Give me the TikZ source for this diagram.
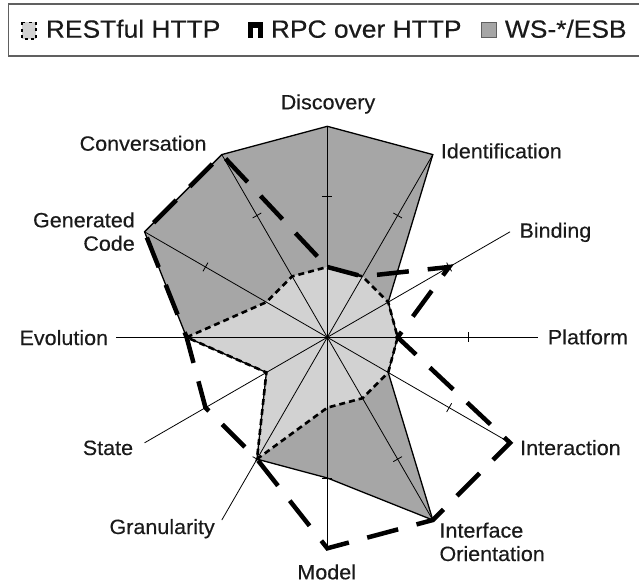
\documentclass[tikz,border=0pt]{standalone}
\usepackage{fontspec}
\setmainfont{Liberation Sans}
\newfontfamily\lblfont[FakeStretch=1.04,FakeBold=0.35]{Liberation Sans}
\newfontfamily\lgdfont[FakeStretch=1.06,FakeBold=0.35]{Liberation Sans}
\definecolor{wsgray}{HTML}{A6A6A6}
\definecolor{restgray}{HTML}{D2D2D2}
\definecolor{boxgray}{HTML}{606060}
\definecolor{txtgray}{HTML}{1A1A1A}
\begin{document}
\begin{tikzpicture}[x=1pt,y=-1pt,
  lbl/.style={inner sep=0pt, text=txtgray, font=\lblfont\fontsize{20.7}{23.4}\selectfont},
  lgd/.style={inner sep=0pt, text=txtgray, anchor=base west, font=\lgdfont\fontsize{24.9}{28}\selectfont},
  axisline/.style={black, line width=0.8pt},
  tickmark/.style={black, line width=0.8pt},
  wsline/.style={black, line width=1.3pt, line join=miter},
  restline/.style={black, line width=2.6pt, dash pattern=on 6pt off 4pt},
  rpcline/.style={black, line width=4.5pt, dash pattern=on 32pt off 19pt}
]
\useasboundingbox (0,0) rectangle (639,584);
\fill[white] (0,0) rectangle (639,584);

% legend
\draw[boxgray, line width=1.3pt] (8.3,4) rectangle (642,56);
\fill[restgray] (21.7,22.3) rectangle (36,39);
\draw[black, line width=1.6pt, dash pattern=on 3pt off 3.5pt] (21.7,22.3) rectangle (36,39);
\node[lgd] (lgrest) at (45.7,37.7) {RESTful HTTP};
\fill[black] (247.7,21.7) rectangle (263.3,38.3);
\fill[white] (253.3,27.7) rectangle (258.3,38.4);
\node[lgd] (lgrpc) at (270.7,37.7) {RPC over HTTP};
\filldraw[fill=wsgray, draw=boxgray, line width=1.2pt] (481.5,22.2) rectangle (496.8,37.8);
\node[lgd] (lgws) at (504.7,37.7) {WS-*/ESB};

% radar
\begin{scope}[shift={(327.3,337.3)}, yscale=-1]
  \coordinate (O) at (0,0);
  \foreach \ang/\w/\r/\p [count=\i] in {90/3/1/1, 60/3/1/1, 30/1/1/2, 0/1/1/1,
      -30/1/1/3, -60/3/1/3, -90/2/1/3, -120/2/2/2, -150/1/1/2, 180/2/2/2,
      150/3/1/3, 120/3/1/3} {
    \coordinate (ax\i) at (\ang:211);
    \coordinate (w\i) at (\ang:{\w*70.333});
    \coordinate (r\i) at (\ang:{\r*70.333});
    \coordinate (p\i) at (\ang:{\p*70.333});
  }
  % WS-*/ESB area
  \fill[wsgray] (w1) -- (w2) -- (w3) -- (w4) -- (w5) -- (w6) -- (w7) -- (w8)
    -- (w9) -- (w10) -- (w11) -- (w12) -- cycle;
  % RESTful area
  \fill[restgray] (r1) -- (r2) -- (r3) -- (r4) -- (r5) -- (r6) -- (r7) -- (r8)
    -- (r9) -- (r10) -- (r11) -- (r12) -- cycle;
  % axes and ticks
  \foreach \i in {1,...,12} {\draw[axisline] (O) -- (ax\i);}
  \foreach \ang in {90,60,30,0,-30,-60,-90,-120,-150,180,150,120} {
    \draw[tickmark] (\ang:140.67) ++(\ang+90:5) -- ++(\ang-90:10);
  }
  % WS outline
  \draw[wsline] (w1) -- (w2) -- (w3) -- (w4) -- (w5) -- (w6) -- (w7) -- (w8)
    -- (w9) -- (w10) -- (w11) -- (w12) -- cycle;
  % RESTful outline
  \draw[restline] (r1) -- (r2) -- (r3) -- (r4) -- (r5) -- (r6) -- (r7) -- (r8)
    -- (r9) -- (r10) -- (r11) -- (r12) -- cycle;
  % RPC outline
  \draw[rpcline] (p1) -- (p2) -- (p3) -- (p4) -- (p5) -- (p6) -- (p7) -- (p8)
    -- (p9) -- (p10) -- (p11) -- (p12) -- cycle;
\end{scope}

% axis labels
\node[lbl, anchor=base] (lDisc) at (328,109.3) {Discovery};
\node[lbl, anchor=base west] (lIdent) at (440.7,158.3) {Identification};
\node[lbl, anchor=base west] (lBind) at (519.3,237.7) {Binding};
\node[lbl, anchor=base west] (lPlat) at (547.7,344.3) {Platform};
\node[lbl, anchor=base west] (lInter) at (520,455) {Interaction};
\node[lbl, anchor=base west, align=left] (lIO) at (439.3,561) {Interface\\Orientation};
\node[lbl, anchor=base] (lModel) at (326.7,579.3) {Model};
\node[lbl, anchor=base east] (lGran) at (215,534) {Granularity};
\node[lbl, anchor=base east] (lState) at (133.3,455) {State};
\node[lbl, anchor=base east] (lEvol) at (108.3,345) {Evolution};
\node[lbl, anchor=base east, align=right] (lGen) at (135,250.7) {Generated\\Code};
\node[lbl, anchor=base east] (lConv) at (206.7,150.7) {Conversation};
\end{tikzpicture}
\end{document}
